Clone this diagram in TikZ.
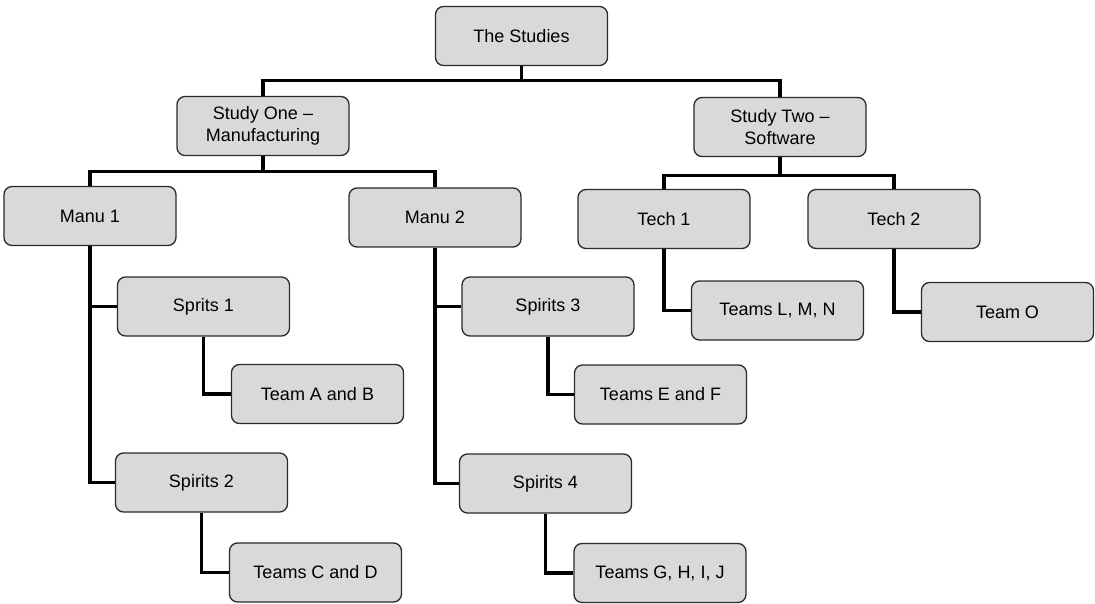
\documentclass[tikz,border=0pt]{standalone}
\usepackage{fontspec}
\setmainfont{Liberation Sans}
\definecolor{boxfill}{HTML}{D9D9D9}
\definecolor{boxline}{HTML}{2A2A2A}
\pgfdeclarelayer{bg}
\pgfsetlayers{bg,main}
\begin{document}
\begin{tikzpicture}[x=1pt,y=-1pt,
  box/.style={draw=boxline, line width=1.3pt, fill=boxfill, rounded corners=8pt,
    minimum width=172pt, minimum height=59pt, inner sep=0pt, align=center,
    font=\fontsize{18}{21.5}\selectfont},
  conn/.style={draw=black, line width=3.2pt}]
\useasboundingbox (0,0) rectangle (1095,604);
\node[box] (top) at (521.5,36) {The Studies};
\node[box] (s1) at (263,126) {Study One --\\Manufacturing};
\node[box] (s2) at (780,127) {Study Two --\\Software};
\node[box] (m1) at (90,216) {Manu 1};
\node[box] (m2) at (435,217.5) {Manu 2};
\node[box] (t1) at (664,219) {Tech 1};
\node[box] (t2) at (894,219) {Tech 2};
\node[box] (sp1) at (203.5,306.5) {Sprits 1};
\node[box] (sp3) at (548,306.5) {Spirits 3};
\node[box] (tab) at (317.5,394) {Team A and B};
\node[box] (tef) at (660.5,394.5) {Teams E and F};
\node[box] (tlmn) at (777.5,310.5) {Teams L, M, N};
\node[box] (to) at (1007.5,312) {Team O};
\node[box] (sp2) at (201.5,482.5) {Spirits 2};
\node[box] (sp4) at (545.5,483.5) {Spirits 4};
\node[box] (tcd) at (315.5,572.5) {Teams C and D};
\node[box] (tghij) at (660,573) {Teams G, H, I, J};
\begin{pgfonlayer}{bg}
\draw[conn] (top.south) -- ++(0,14) -| (s1.north);
\draw[conn] (top.south) -- ++(0,14) -| (s2.north);
\draw[conn] (s1.south) -- ++(0,15) -| (m1.north);
\draw[conn] (s1.south) -- ++(0,15) -| (m2.north);
\draw[conn] (s2.south) -- ++(0,18) -| (t1.north);
\draw[conn] (s2.south) -- ++(0,18) -| (t2.north);
\draw[conn] (m1.south) |- (sp1.west);
\draw[conn] (m1.south) |- (sp2.west);
\draw[conn] (m2.south) |- (sp3.west);
\draw[conn] (m2.south) |- (sp4.west);
\draw[conn] (sp1.south) |- (tab.west);
\draw[conn] (sp2.south) |- (tcd.west);
\draw[conn] (sp3.south) |- (tef.west);
\draw[conn] (sp4.south) |- (tghij.west);
\draw[conn] (t1.south) |- (tlmn.west);
\draw[conn] (t2.south) |- (to.west);
\end{pgfonlayer}
\end{tikzpicture}
\end{document}
